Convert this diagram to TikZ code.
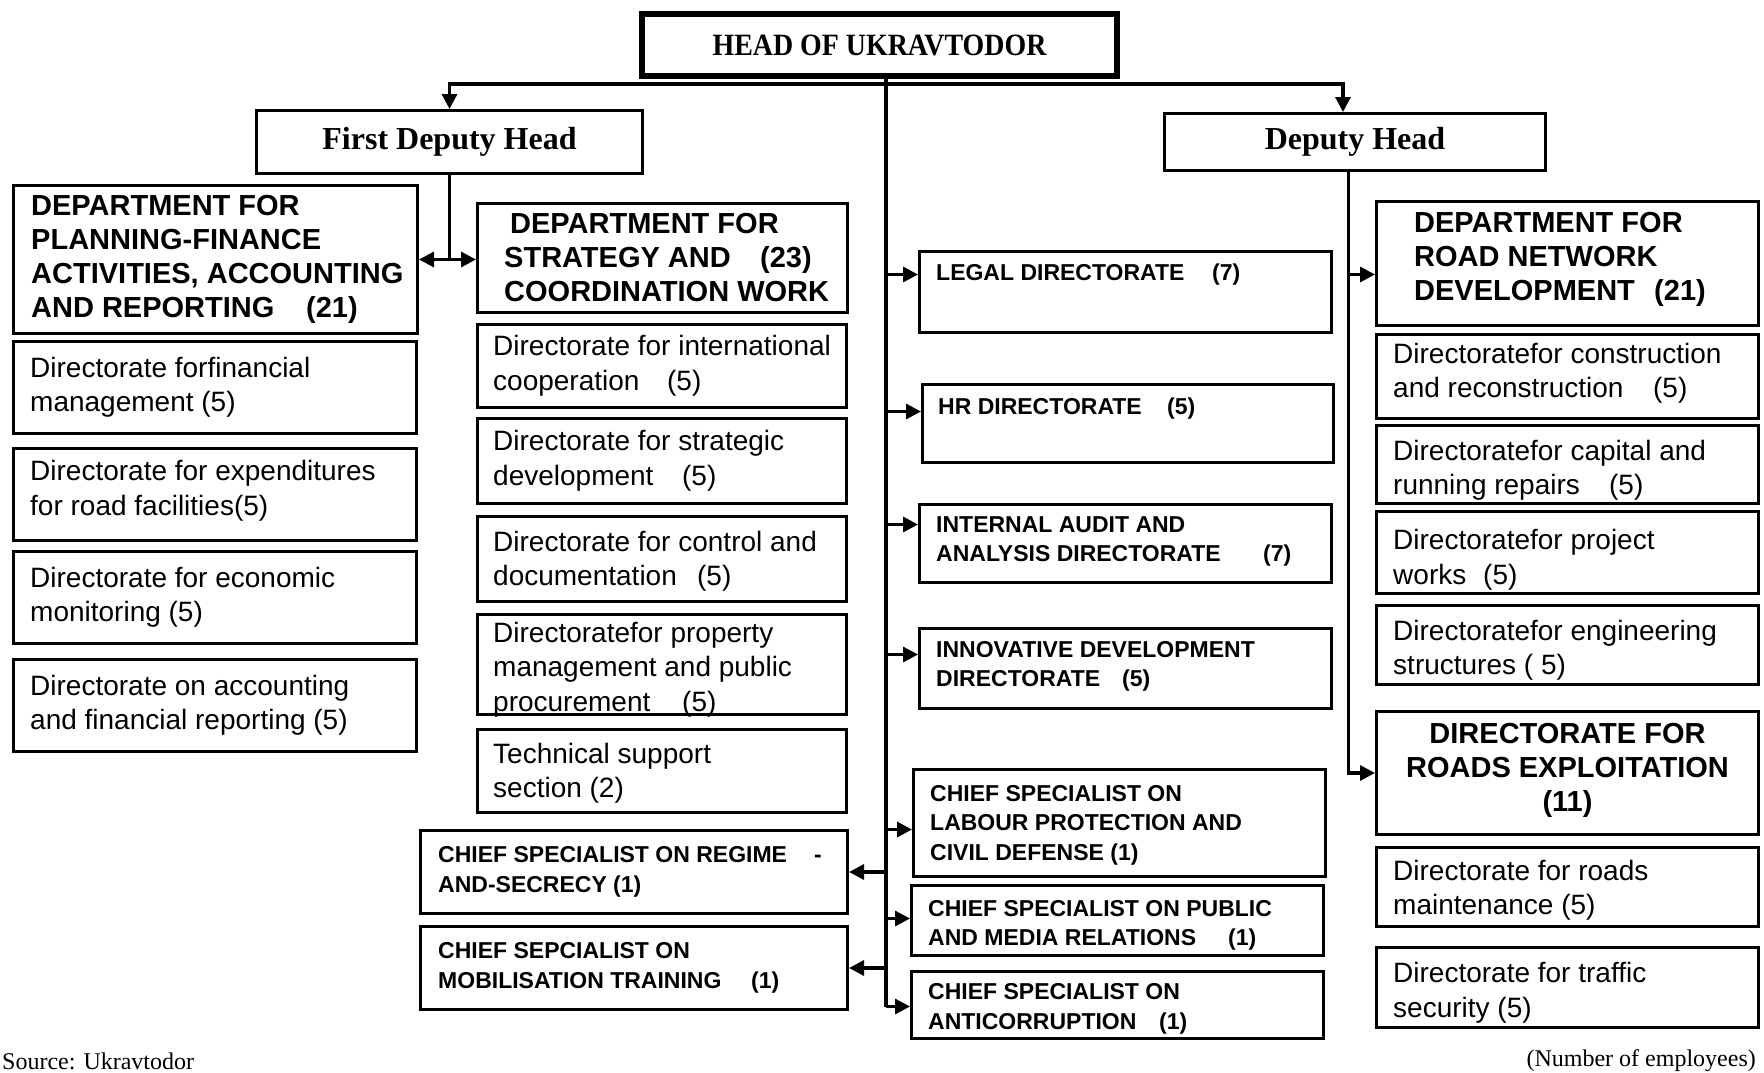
\documentclass[tikz,border=0pt]{standalone}
\usepackage{fontspec}
\setmainfont{Liberation Serif}
\newfontfamily\sansf{Liberation Sans}
\newfontfamily\seriff{Liberation Serif}
\newfontfamily\headf[FakeStretch=0.9]{Liberation Serif}
\usetikzlibrary{arrows.meta,calc}
\newcommand\bx[6][]{\node[box,#1,minimum width={#4-#2},minimum height={#5-#3},anchor=north west] (#6) at (#2,#3) {};}
\newcommand\tx[5][]{\node[#2,anchor=west,#1] (#3t) at ([xshift=#4pt]#3.west) {#5};}
\begin{document}
\begin{tikzpicture}[x=1pt,y=-1pt,
  box/.style={draw, line width=3pt, inner sep=0pt, rectangle},
  bigbold/.style={font=\sansf\bfseries\fontsize{29}{34}\selectfont, align=left, inner sep=0pt},
  reg/.style={font=\sansf\fontsize{28}{34.5}\selectfont, align=left, inner sep=0pt},
  smallbold/.style={font=\sansf\bfseries\fontsize{23}{29.5}\selectfont, align=left, inner sep=0pt},
  headtxt/.style={font=\headf\bfseries\fontsize{31}{36}\selectfont, inner sep=0pt},
  deptxt/.style={font=\seriff\bfseries\fontsize{32}{36}\selectfont, inner sep=0pt},
  foot/.style={font=\seriff\fontsize{24}{28}\selectfont, inner sep=0pt},
  conn/.style={line width=3.2pt},
  arr/.style={line width=3.2pt, -{Triangle[length=15pt,width=15pt]}},
  darr/.style={line width=3.2pt, {Triangle[length=15pt,width=15pt]}-{Triangle[length=15pt,width=15pt]}},
]
\fill[white] (0,0) rectangle (1764,1073);
\useasboundingbox (0,0) rectangle (1764,1073);

% ---- boxes ----
\bx[line width=6pt]{639}{11}{1114}{73}{head}
\bx{255}{109}{641}{172}{FDH}
\bx{1163}{112}{1544}{169}{DH}
\bx{12}{184}{416}{332}{L0}
\bx{12}{340}{415}{432}{L1}
\bx{12}{447}{415}{539}{L2}
\bx{12}{550}{415}{642}{L3}
\bx{12}{658}{415}{750}{L4}
\bx{476}{202}{846}{311}{S0}
\bx{476}{323}{845}{406}{S1}
\bx{476}{417}{845}{502}{S2}
\bx{476}{515}{845}{600}{S3}
\bx{476}{613}{845}{713}{S4}
\bx{476}{728}{845}{811}{S5}
\bx{419}{829}{846}{912}{C1}
\bx{419}{925}{846}{1008}{C2}
\bx{918}{250}{1330}{331}{M1}
\bx{921}{383}{1332}{461}{M2}
\bx{918}{503}{1330}{581}{M3}
\bx{918}{627}{1330}{707}{M4}
\bx{912}{768}{1324}{875}{M5}
\bx{910}{884}{1322}{954}{M6}
\bx{910}{970}{1322}{1037}{M7}
\bx{1375}{200}{1757}{324}{R0}
\bx{1375}{333}{1757}{417}{R1}
\bx{1375}{424}{1757}{502}{R2}
\bx{1375}{510}{1757}{592}{R3}
\bx{1375}{604}{1757}{683}{R4}
\bx{1375}{710}{1757}{833}{R5}
\bx{1375}{846}{1757}{925}{R6}
\bx{1375}{946}{1757}{1026}{R7}

% ---- texts ----
\node[headtxt] (headt) at (head.center) {HEAD OF UKRAVTODOR};
\node[deptxt] (FDHt) at (FDH.center) {First Deputy Head};
\node[deptxt] (DHt) at (DH.center) {Deputy Head};

\tx{bigbold}{L0}{19}{DEPARTMENT FOR\\PLANNING-FINANCE\\ACTIVITIES, ACCOUNTING\\\makebox[275pt][l]{AND REPORTING}(21)}
\tx{reg}{L1}{18}{Directorate forfinancial\\management (5)}
\tx[yshift=4pt]{reg}{L2}{18}{Directorate for expenditures\\for road facilities(5)}
\tx{reg}{L3}{18}{Directorate for economic\\monitoring (5)}
\tx{reg}{L4}{18}{Directorate on accounting\\and financial reporting (5)}

\tx{bigbold}{S0}{28}{\hspace*{6pt}DEPARTMENT FOR\\\makebox[256pt][l]{STRATEGY AND}(23)\\COORDINATION WORK}
\tx{reg}{S1}{17}{Directorate for international\\\makebox[174pt][l]{cooperation}(5)}
\tx{reg}{S2}{17}{Directorate for strategic\\\makebox[189pt][l]{development}(5)}
\tx[yshift=-2pt]{reg}{S3}{17}{Directorate for control and\\\makebox[204pt][l]{documentation}(5)}
\tx[yshift=-5pt]{reg}{S4}{17}{Directoratefor property\\management and public\\\makebox[189pt][l]{procurement}(5)}
\tx[yshift=-2pt]{reg}{S5}{17}{Technical support\\section (2)}

\tx{smallbold}{C1}{19}{\makebox[376pt][l]{CHIEF SPECIALIST ON REGIME}-\\AND-SECRECY (1)}
\tx{smallbold}{C2}{19}{CHIEF SEPCIALIST ON\\\makebox[313pt][l]{MOBILISATION TRAINING}(1)}

\tx[yshift=17pt]{smallbold}{M1}{18}{\makebox[276pt][l]{LEGAL DIRECTORATE}(7)}
\tx[yshift=15pt]{smallbold}{M2}{17}{\makebox[229pt][l]{HR DIRECTORATE}(5)}
\tx[yshift=2pt]{smallbold}{M3}{18}{INTERNAL AUDIT AND\\\makebox[327pt][l]{ANALYSIS DIRECTORATE}(7)}
\tx[yshift=2pt]{smallbold}{M4}{18}{INNOVATIVE DEVELOPMENT\\\makebox[186pt][l]{DIRECTORATE}(5)}
\tx[yshift=-2pt]{smallbold}{M5}{18}{CHIEF SPECIALIST ON\\LABOUR PROTECTION AND\\CIVIL DEFENSE (1)}
\tx[yshift=-5pt]{smallbold}{M6}{18}{CHIEF SPECIALIST ON PUBLIC\\\makebox[300pt][l]{AND MEDIA RELATIONS}(1)}
\tx[yshift=-4pt]{smallbold}{M7}{18}{CHIEF SPECIALIST ON\\\makebox[231pt][l]{ANTICORRUPTION}(1)}

\tx[yshift=4pt]{bigbold}{R0}{39}{DEPARTMENT FOR\\ROAD NETWORK\\\makebox[240pt][l]{DEVELOPMENT}(21)}
\tx[yshift=3pt]{reg}{R1}{18}{Directoratefor construction\\\makebox[260pt][l]{and reconstruction}(5)}
\tx[yshift=-6pt]{reg}{R2}{18}{Directoratefor capital and\\\makebox[216pt][l]{running repairs}(5)}
\tx[yshift=-7pt]{reg}{R3}{18}{Directoratefor project\\\makebox[90pt][l]{works}(5)}
\tx[yshift=-5pt]{reg}{R4}{18}{Directoratefor engineering\\structures ( 5)}
\node[bigbold, align=center, yshift=3pt] (R5t) at (R5.center) {DIRECTORATE FOR\\ROADS EXPLOITATION\\(11)};
\tx[yshift=-3pt]{reg}{R6}{18}{Directorate for roads\\maintenance (5)}
\tx[yshift=-5pt]{reg}{R7}{18}{Directorate for traffic\\security (5)}

\node[foot, anchor=west] (src) at (2,1061) {Source: Ukravtodor};
\node[foot, anchor=east] (num) at (1756,1061) {(Number of employees)};

% ---- connectors ----
\coordinate (hub) at ([xshift=6.5pt,yshift=-5pt]head.south);
\draw[arr] (hub) -| (FDH.north);
\draw[arr] (hub) -| ([xshift=-12pt]DH.north);

\coordinate (m1in) at ([yshift=17.5pt]M1.west);
\coordinate (m2in) at ([yshift=12pt]M2.west);
\coordinate (m3in) at ([yshift=19pt]M3.west);
\coordinate (m4in) at ([yshift=14pt]M4.west);
\coordinate (m5in) at ([yshift=-6.5pt]M5.west);
\coordinate (m6in) at ([yshift=2pt]M6.west);
\coordinate (m7in) at ([yshift=-1.5pt]M7.west);
\draw[conn] (hub |- head.south) -- (hub |- m7in);
\draw[arr] (hub |- m1in) -- (m1in);
\draw[arr] (hub |- m2in) -- (m2in);
\draw[arr] (hub |- m3in) -- (m3in);
\draw[arr] (hub |- m4in) -- (m4in);
\draw[arr] (hub |- m5in) -- (m5in);
\draw[arr] (hub |- m6in) -- (m6in);
\draw[arr] (hub |- m7in) -- (m7in);
\draw[arr] (hub |- C1.east) -- (C1.east);
\draw[arr] (hub |- C2.east) -- (C2.east);

\draw[conn] (FDH.south) -- (FDH.south |- L0.east);
\draw[darr] (L0.east) -- (S0.west |- L0.east);

\coordinate (dhs) at ([xshift=-6.5pt]DH.south);
\coordinate (r0in) at ([yshift=-11pt]R0.west);
\draw[arr] (dhs) |- (R5.west);
\draw[arr] (dhs |- r0in) -- (r0in);
\end{tikzpicture}
\end{document}
